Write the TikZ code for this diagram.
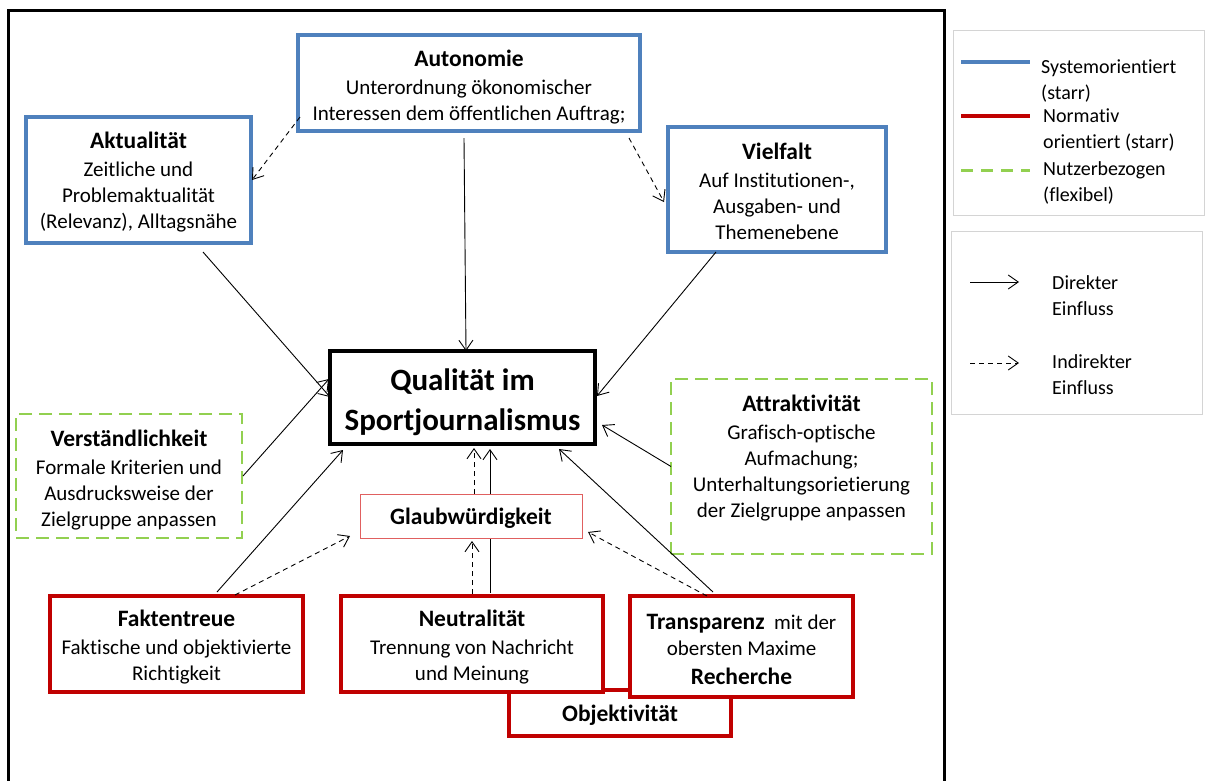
\documentclass[tikz,border=0pt]{standalone}
\usepackage{fontspec}
\setmainfont{Carlito}[RawFeature=-liga]
\usetikzlibrary{arrows.meta,backgrounds,calc}
\definecolor{sysblue}{HTML}{4F81BD}
\definecolor{normred}{HTML}{C00000}
\definecolor{userg}{HTML}{92D050}
\definecolor{glred}{HTML}{E06060}
\definecolor{leggray}{HTML}{D4D4D4}
\newcommand{\bodyf}{\fontsize{21}{26}\selectfont}
\newcommand{\titf}{\bfseries\fontsize{23.5}{28}\selectfont}
\newcommand{\legf}{\fontsize{20}{26}\selectfont}
\begin{document}
\begin{tikzpicture}[x=1pt,y=-1pt,
  box/.style={inner sep=0pt,outer sep=0pt},
  sysbox/.style={box,draw=sysblue,line width=3.5pt},
  normbox/.style={box,draw=normred,line width=3.5pt,fill=white},
  userbox/.style={box,draw=userg,line width=2.8pt,dash pattern=on 13pt off 7pt},
  txt/.style={align=center,font=\bodyf,inner sep=0pt},
  legtxt/.style={align=left,font=\legf,inner sep=0pt,anchor=west},
  direct/.style={-{Straight Barb[length=10pt,width=14pt]},line width=0.9pt},
  indirect/.style={direct,dash pattern=on 5pt off 4pt}]
\useasboundingbox (0,0) rectangle (1208,780);
% outer frame
\draw[line width=3pt] (8,785) -- (8,10) -- (944,10) -- (944,785);

% system-oriented boxes
\node[sysbox,minimum width=342pt,minimum height=96pt] (aut) at (469,83) {};
\node[txt] (autt) at (469,87.5) {{\titf Autonomie}\\[2pt]Unterordnung ökonomischer\\Interessen dem öffentlichen Auftrag;};
\node[sysbox,minimum width=225pt,minimum height=126pt] (akt) at (138.5,180) {};
\node[txt] (aktt) at (138.5,182) {{\titf Aktualität}\\[2pt]Zeitliche und\\Problemaktualität\\(Relevanz), Alltagsnähe};
\node[sysbox,minimum width=218pt,minimum height=125pt] (vie) at (777,189.5) {};
\node[txt] (viet) at (777,191.5) {{\titf Vielfalt}\\[2pt]Auf Institutionen-,\\Ausgaben- und\\Themenebene};

% central box
\node[box,draw=black,line width=4pt,minimum width=265pt,minimum height=93pt] (qual) at (462.5,397.5) {};
\node[align=center,inner sep=0pt,font=\bfseries\fontsize{31}{40}\selectfont] (qualt) at (462.5,402) {Qualität im\\Sportjournalismus};

% user-oriented boxes
\node[userbox,minimum width=226pt,minimum height=124pt] (ver) at (129,476) {};
\node[txt] (vert) at (129,480) {{\titf Verständlichkeit}\\[2pt]Formale Kriterien und\\Ausdrucksweise der\\Zielgruppe anpassen};
\node[userbox,minimum width=261pt,minimum height=175pt] (att) at (801.5,466.5) {};
\node[txt] (attt) at (801.5,458.5) {{\titf Attraktivität}\\[2pt]Grafisch-optische\\Aufmachung;\\Unterhaltungsorietierung\\der Zielgruppe anpassen};

% normative boxes
\node[normbox,minimum width=222pt,minimum height=46pt] (obj) at (620,713) {};
\node[txt] (objt) at (620,715) {\titf Objektivität};
\node[normbox,minimum width=253pt,minimum height=96pt] (fak) at (176.5,644) {};
\node[txt] (fakt) at (176.5,647.5) {{\titf Faktentreue}\\[2pt]Faktische und objektivierte\\Richtigkeit};
\node[normbox,minimum width=262pt,minimum height=96pt] (neu) at (472,644) {};
\node[txt] (neut) at (472,647.5) {{\titf Neutralität}\\[2pt]Trennung von Nachricht\\und Meinung};
\node[normbox,minimum width=223pt,minimum height=101pt] (tra) at (741.5,646.5) {};
\node[txt] (trat) at (741.5,649) {{\titf Transparenz}\ \ mit der\\obersten Maxime\\[3pt]{\titf Recherche}};

% Glaubwuerdigkeit
\node[box,draw=glred,line width=1pt,fill=white,minimum width=222pt,minimum height=44pt] (gla) at (471,516) {};
\node[txt] (glat) at (471,518) {\titf Glaubwürdigkeit};

% connectors
\begin{scope}[on background layer]
\draw[direct] ([xshift=18pt,yshift=3pt]neu.north) -- ([xshift=27.5pt,yshift=-5pt]qual.south);
\end{scope}
\draw[indirect] ([xshift=2pt,yshift=14pt]aut.south west) -- ([xshift=1pt]akt.east);
\draw[indirect] ([xshift=-11pt,yshift=-7pt]aut.south east) -- ([xshift=-4pt,yshift=-12.5pt]vie.west);
\draw[direct] ([xshift=-5pt,yshift=-7pt]aut.south) -- ([xshift=3.5pt]qual.north);
\draw[direct] ([xshift=64.5pt,yshift=-9pt]akt.south) -- ([yshift=0.5pt]qual.west);
\draw[direct] ([xshift=-61pt]vie.south) -- ([xshift=2pt,yshift=1.5pt]qual.east);
\draw[direct] ([xshift=1pt]ver.east) -- ([xshift=-1pt,yshift=18.5pt]qual.west);
\draw[direct] ([xshift=40.5pt,yshift=4pt]fak.north) -- ([xshift=13pt,yshift=-6pt]qual.south west);
\draw[indirect] ([xshift=58.5pt,yshift=1pt]fak.north) -- ([xshift=-10pt,yshift=2pt]gla.south west);
\draw[indirect] ([yshift=2pt]neu.north) -- ([xshift=1pt,yshift=-3pt]gla.south);
\draw[indirect] ([xshift=3pt]gla.north) -- ([xshift=11.5pt,yshift=-4pt]qual.south);
\draw[direct] ([xshift=-28.5pt,yshift=4pt]tra.north) -- ([xshift=-36pt,yshift=-5pt]qual.south east);
\draw[indirect] ([xshift=-34.5pt]tra.north) -- ([xshift=6pt,yshift=-16pt]gla.east);
\draw[direct] (att.west) -- ([xshift=7pt,yshift=-27.5pt]qual.east);

% legend
\node[box,draw=leggray,line width=1pt,minimum width=251pt,minimum height=185pt] (leg1) at (1078.5,122.5) {};
\node[box,draw=leggray,line width=1pt,minimum width=251pt,minimum height=183pt] (leg2) at (1076.5,322.5) {};
\coordinate (lb1) at (961,62); \coordinate (lb2) at (1030,62);
\draw[sysblue,line width=4pt] (lb1) -- (lb2);
\node[legtxt] (lt1) at (1041,81) {Systemorientiert\\(starr)};
\coordinate (lr1) at (961,116); \coordinate (lr2) at (1030,116);
\draw[normred,line width=4pt] (lr1) -- (lr2);
\node[legtxt] (lt2) at (1043,130) {Normativ\\orientiert (starr)};
\coordinate (lg1) at (961,170); \coordinate (lg2) at (1030,170);
\draw[userg,line width=3pt,dash pattern=on 12pt off 8pt] (lg1) -- (lg2);
\node[legtxt] (lt3) at (1043,183) {Nutzerbezogen\\(flexibel)};
\coordinate (ld1) at (970,282); \coordinate (ld2) at (1019,282);
\draw[direct] (ld1) -- (ld2);
\node[legtxt] (lt4) at (1052,296) {Direkter\\Einfluss};
\coordinate (li1) at (970,363); \coordinate (li2) at (1019,363);
\draw[indirect] (li1) -- (li2);
\node[legtxt] (lt5) at (1052,375) {Indirekter\\Einfluss};
\end{tikzpicture}
\end{document}
